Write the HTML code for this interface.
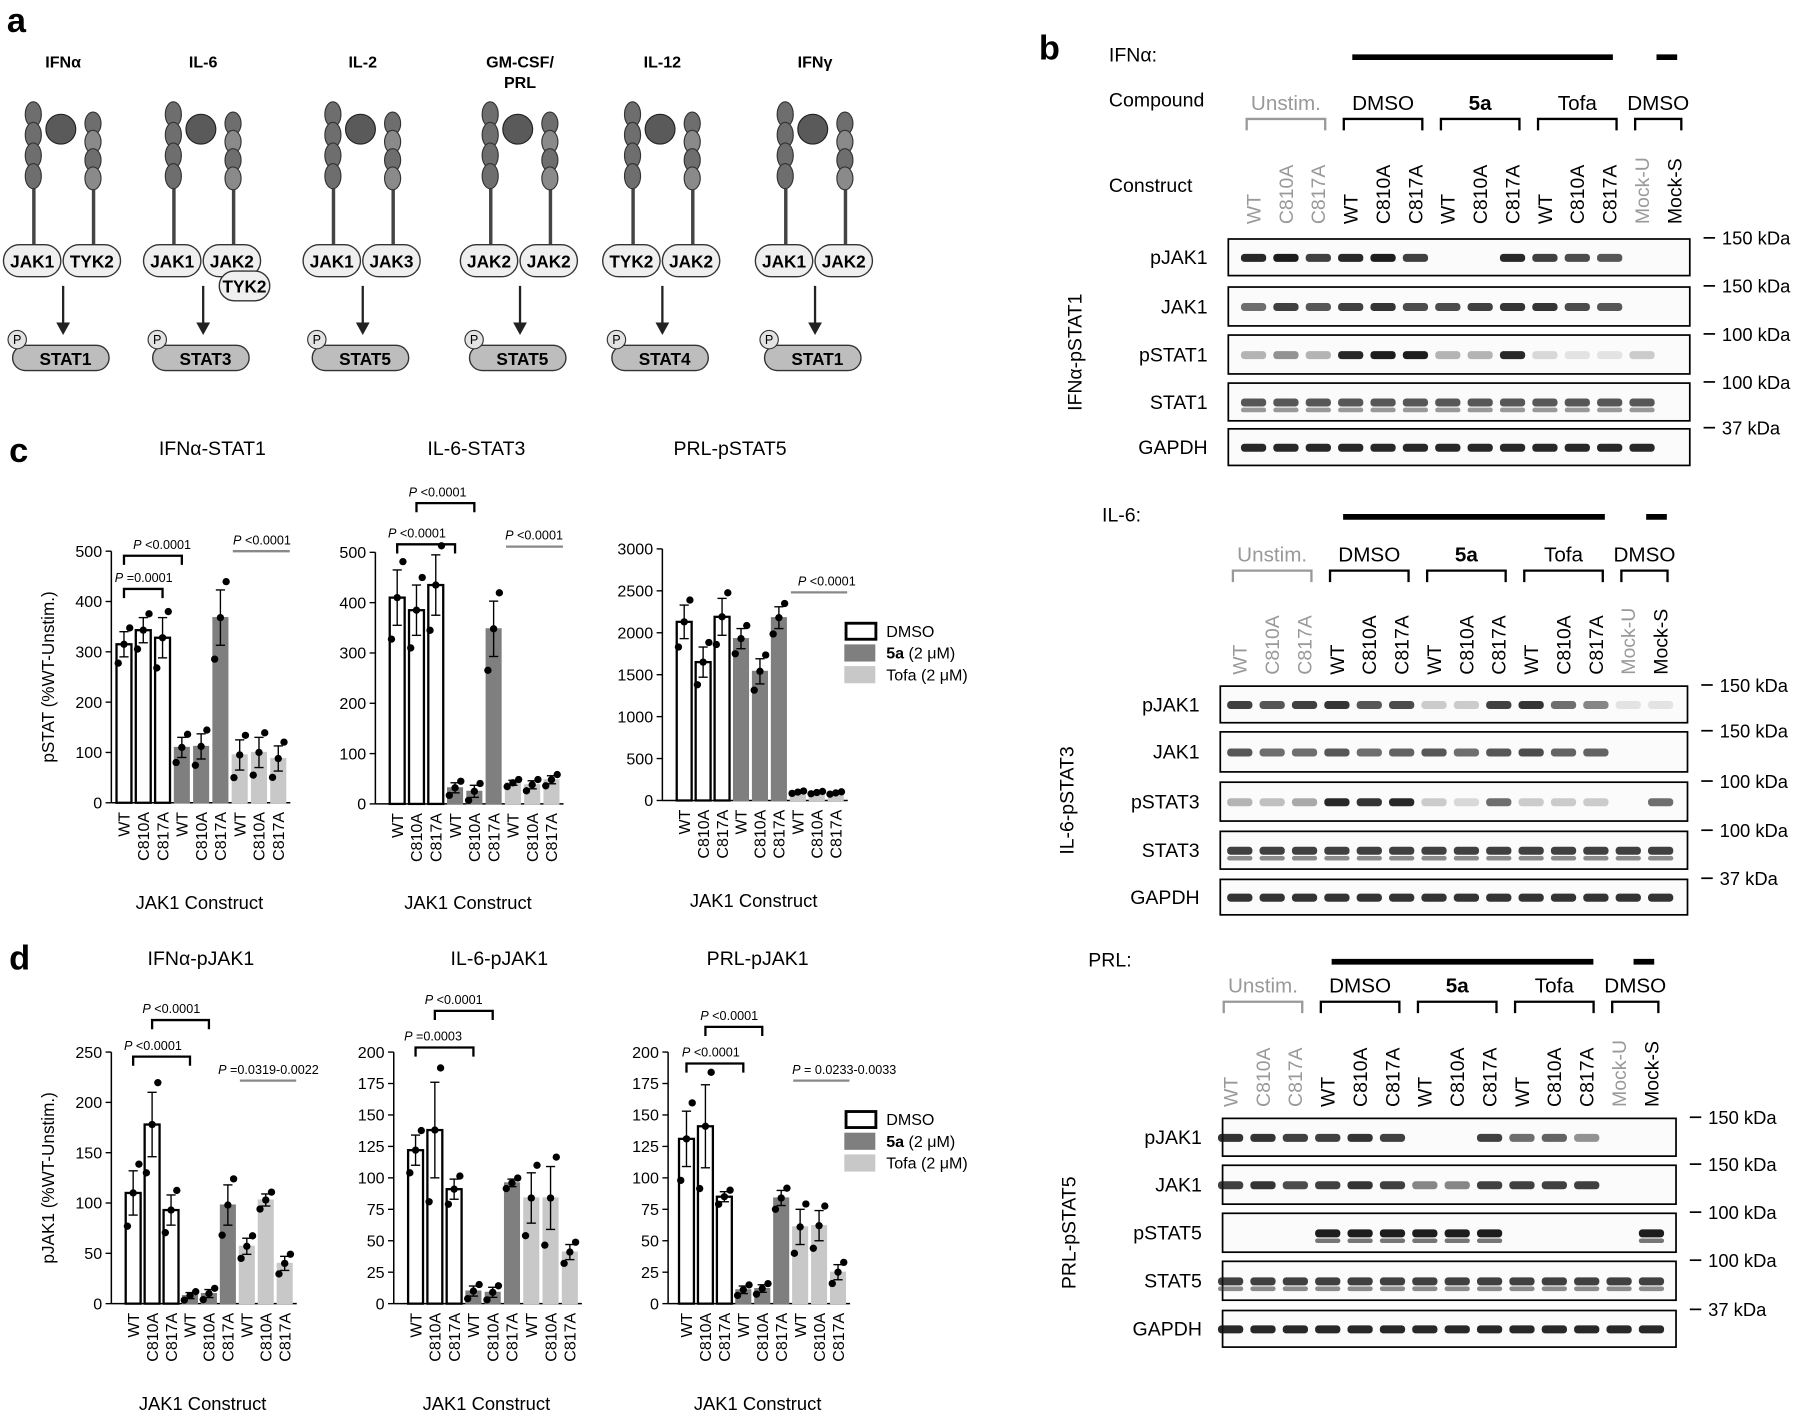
<!DOCTYPE html>
<html><head><meta charset="utf-8"><style>
html,body{margin:0;padding:0;background:#fff}
svg{display:block}
text{font-family:"Liberation Sans",Arial,sans-serif}
</style></head><body>
<svg id="fig" xmlns="http://www.w3.org/2000/svg" width="1800" height="1418" viewBox="0 0 1568 1240" preserveAspectRatio="none">
<text x="6" y="28" font-size="30" font-weight="bold">a</text>
<text x="905" y="52" font-size="30" font-weight="bold">b</text>
<text x="8" y="404" font-size="30" font-weight="bold">c</text>
<text x="8" y="848" font-size="30" font-weight="bold">d</text>
<g id="pa"></g>
<g id="pc"></g>
<g id="pb"></g>
</svg>
<script>
// ===== Panel c data =====
const cats = ["WT","C810A","C817A","WT","C810A","C817A","WT","C810A","C817A"];
const groupOf = [0,0,0,1,1,1,2,2,2];
const cIFN_vals = [315,343,328,110,112,368,95,100,88];
const cIFN_err = [25,25,40,20,25,55,30,30,25];
const cIL6_vals = [410,385,435,32,25,348,42,38,48];
const cIL6_err = [55,50,60,10,12,55,5,8,8];
const cPRL_vals = [2130,1650,2190,1930,1540,2180,100,95,90];
const cPRL_err = [200,180,220,120,150,130,10,10,10];
const cIFN_ticks = [0,100,200,300,400,500];
const cIL6_ticks = [0,100,200,300,400,500];
const cPRL_ticks = [0,500,1000,1500,2000,2500,3000];
// ===== Panel d data =====
const dIFN_vals = [110,178,93,8,10,98,57,103,40];
const dIFN_err = [22,32,15,3,4,20,8,6,7];
const dIL6_vals = [122,138,91,10,9,96,84,84,41];
const dIL6_err = [12,38,8,4,4,3,20,25,6];
const dPRL_vals = [131,141,85,11,12,84,61,62,25];
const dPRL_err = [22,33,4,3,3,6,14,12,6];
const dIFN_ticks = [0,50,100,150,200,250];
const dIL6_ticks = [0,25,50,75,100,125,150,175,200];
const dPRL_ticks = [0,25,50,75,100,125,150,175,200];

const NS="http://www.w3.org/2000/svg";
function el(tag, attrs, parent){const e=document.createElementNS(NS,tag);for(const k in attrs)e.setAttribute(k,attrs[k]);parent.appendChild(e);return e;}
function txt(s,attrs,parent){const e=el('text',attrs,parent);e.textContent=s;return e;}
const fills=["#ffffff","#7f7f7f","#c8c8c8"];

function chart(g, o){
  const {x0,yb,yt,max,vals,err,ticks,title,ylabel,step,bw,start}=o;
  const ys=v=>yb-(v/max)*(yb-yt);
  const cg=el('g',{},g);
  
  
  const t=txt(title,{x:o.tx,y:yt-80+o.tdy,'font-size':17,'text-anchor':'middle'},cg);
  
  
  el('line',{x1:x0,x2:x0,y1:yt,y2:yb,stroke:'#000','stroke-width':1.3},cg);
  ticks.forEach(v=>{
    const y=ys(v);
    el('line',{x1:x0-5,x2:x0,y1:y,y2:y,stroke:'#000','stroke-width':1.2},cg);
    const tl=txt(String(v),{x:x0-8,y:y+5,'font-size':14,'text-anchor':'end'},cg);
    
    
  });
  const xs=i=>start+i*step;
  el('line',{x1:x0,x2:xs(8)+bw/2+4,y1:yb,y2:yb,stroke:'#000','stroke-width':1.3},cg);
  vals.forEach((v,i)=>{
    const cx=xs(i), y=ys(v);
    const b=el('rect',{x:cx-bw/2,y:y,width:bw,height:yb-y,fill:fills[groupOf[i]],stroke:groupOf[i]==0?'#000':(groupOf[i]==1?'#7f7f7f':'#c8c8c8'),'stroke-width':groupOf[i]==0?2:1},cg);
    
    
    const e=err[i];
    el('line',{x1:cx,x2:cx,y1:ys(v-e),y2:ys(v+e),stroke:'#000','stroke-width':1.2},cg);
    el('line',{x1:cx-4,x2:cx+4,y1:ys(v+e),y2:ys(v+e),stroke:'#000','stroke-width':1.2},cg);
    el('line',{x1:cx-4,x2:cx+4,y1:ys(v-e),y2:ys(v-e),stroke:'#000','stroke-width':1.2},cg);
    [-1.5,0,1.3].forEach((k,j)=>{
      el('circle',{cx:cx+(j-1)*5,cy:ys(Math.max(0,v+k*e)),r:3.2,fill:'#000'},cg);
    });
    const lb=txt(cats[i],{transform:`translate(${cx+5},${yb+8}) rotate(-90)`,'font-size':14,'text-anchor':'end'},cg);
    
    
  });
  const xl=txt('JAK1 Construct',{x:(x0+xs(8))/2+4,y:yb+o.xty,'font-size':16,'text-anchor':'middle'},cg);
  
  
  if(ylabel){
    const yl=txt(ylabel,{transform:`translate(${x0-50},${(yt+yb)/2}) rotate(-90)`,'font-size':15,'text-anchor':'middle'},cg);
    
    
  }
  (o.brackets||[]).forEach(br=>{
    const [i1,i2,y,label,lx]=br;
    el('path',{d:`M${xs(i1)},${y+8} V${y} H${xs(i2)} V${y+8}`,fill:'none',stroke:'#000','stroke-width':2},cg);
    const pl=txt('',{x:lx,y:y-6,'font-size':11},cg);
    pl.innerHTML='<tspan font-style="italic">P</tspan> '+label;
    
    
  });
  if(o.grayline){
    const [y,label,lx]=o.grayline;
    el('line',{x1:xs(6)-6,x2:xs(8)+10,y1:y,y2:y,stroke:'#888','stroke-width':2},cg);
    const pl=txt('',{x:lx,y:y-6,'font-size':11},cg);
    pl.innerHTML='<tspan font-style="italic">P</tspan> '+label;
    
    
  }
}
const pc=document.getElementById('pc');
chart(pc,{name:'chart-ifna-stat1',x0:97,yb:702,yt:482,max:500,vals:cIFN_vals,err:cIFN_err,ticks:cIFN_ticks,title:'IFNα-STAT1',ylabel:'pSTAT (%WT-Unstim.)',start:108,step:16.8,bw:13,tx:185,tdy:-4,xty:93,
  brackets:[[0,3,486,'<0.0001',116],[0,2,515,'=0.0001',100]],grayline:[482,'<0.0001',203]});
chart(pc,{name:'chart-il6-stat3',x0:327,yb:703,yt:483,max:500,vals:cIL6_vals,err:cIL6_err,ticks:cIL6_ticks,title:'IL-6-STAT3',ylabel:null,start:346,step:16.8,bw:13,tx:415,tdy:-5,xty:92,
  brackets:[[1,4,440,'<0.0001',356],[0,3,476,'<0.0001',338]],grayline:[478,'<0.0001',440]});
chart(pc,{name:'chart-prl-pstat5',x0:577,yb:700,yt:480,max:3000,vals:cPRL_vals,err:cPRL_err,ticks:cPRL_ticks,title:'PRL-pSTAT5',ylabel:null,start:596,step:16.5,bw:13,tx:636,tdy:-2,xty:93,
  brackets:[],grayline:[518,'<0.0001',695]});
chart(pc,{name:'chart-ifna-pjak1',x0:97,yb:1140,yt:920,max:250,vals:dIFN_vals,err:dIFN_err,ticks:dIFN_ticks,title:'IFNα-pJAK1',ylabel:'pJAK1 (%WT-Unstim.)',start:116,step:16.5,bw:13,tx:175,tdy:4,xty:93,
  brackets:[[1,4,892,'<0.0001',124],[0,3,924,'<0.0001',108]],grayline:[945,'=0.0319-0.0022',190]});
chart(pc,{name:'chart-il6-pjak1',x0:343,yb:1140,yt:920,max:200,vals:dIL6_vals,err:dIL6_err,ticks:dIL6_ticks,title:'IL-6-pJAK1',ylabel:null,start:362,step:16.8,bw:13,tx:435,tdy:4,xty:93,
  brackets:[[1,4,884,'<0.0001',370],[0,3,916,'=0.0003',352]],grayline:null});
chart(pc,{name:'chart-prl-pjak1',x0:582,yb:1140,yt:920,max:200,vals:dPRL_vals,err:dPRL_err,ticks:dPRL_ticks,title:'PRL-pJAK1',ylabel:null,start:598,step:16.5,bw:13,tx:660,tdy:4,xty:93,
  brackets:[[1,4,898,'<0.0001',610],[0,3,930,'<0.0001',594]],grayline:[945,'= 0.0233-0.0033',690]});

// legends
function legend(y){
  const lg=el('g',{},pc);
  
  
  const labs=['DMSO','<tspan font-weight="bold">5a</tspan> (2 μM)','Tofa (2 μM)'];
  labs.forEach((l,i)=>{
    el('rect',{x:736+(i==0?1:0),y:y+i*19,width:26,height:14,fill:fills[i],stroke:i==0?'#000':fills[i],'stroke-width':i==0?2.5:1},lg);
    const t=txt('',{x:772,y:y+i*19+12,'font-size':14},lg);
    t.innerHTML=l;
    
    
  });
}
legend(545); legend(972);

// ===== Panel a =====
const pa=document.getElementById('pa');
const paths=[
  {t:['IFNα'],c:55,j:['JAK1','TYK2'],s:'STAT1'},
  {t:['IL-6'],c:177,j:['JAK1','JAK2'],s:'STAT3',extra:'TYK2'},
  {t:['IL-2'],c:316,j:['JAK1','JAK3'],s:'STAT5'},
  {t:['GM-CSF/','PRL'],c:453,j:['JAK2','JAK2'],s:'STAT5'},
  {t:['IL-12'],c:577,j:['TYK2','JAK2'],s:'STAT4'},
  {t:['IFNγ'],c:710,j:['JAK1','JAK2'],s:'STAT1'}];
paths.forEach((p,k)=>{
  const g=el('g',{},pa);
  
  
  p.t.forEach((s,i)=>{const t=txt(s,{x:p.c,y:59+i*18,'font-size':14,'font-weight':'bold','text-anchor':'middle'},g);
    });
  const c=p.c;
  el('rect',{x:c-27,y:150,width:3,height:65,fill:'#444'},g);
  el('rect',{x:c+25,y:150,width:3,height:65,fill:'#444'},g);
  for(let i=0;i<4;i++){
    el('ellipse',{cx:c-26,cy:100+i*18,rx:7,ry:11,fill:'#6e6e6e',stroke:'#333','stroke-width':1},g);
    el('ellipse',{cx:c+26,cy:108+i*16,rx:7,ry:10,fill:i%2?'#8a8a8a':'#6e6e6e',stroke:'#333','stroke-width':1},g);
  }
  el('circle',{cx:c-2,cy:113,r:13,fill:'#5a5a5a',stroke:'#222','stroke-width':1},g);
  p.j.forEach((s,i)=>{
    const x=c-52+i*52;
    el('rect',{x:x,y:214,width:50,height:28,rx:14,fill:'#efefef',stroke:'#333','stroke-width':1.2},g);
    const t=txt(s,{x:x+25,y:234,'font-size':15,'font-weight':'bold','text-anchor':'middle'},g);
    
  });
  if(p.extra){
    el('rect',{x:c+14,y:237,width:44,height:26,rx:13,fill:'#efefef',stroke:'#333','stroke-width':1.2},g);
    const t=txt(p.extra,{x:c+36,y:256,'font-size':15,'font-weight':'bold','text-anchor':'middle'},g);
    
  }
  el('line',{x1:c,x2:c,y1:250,y2:283,stroke:'#222','stroke-width':2},g);
  el('path',{d:`M${c-6},${282} L${c+6},${282} L${c},${293} Z`,fill:'#222'},g);
  el('rect',{x:c-44,y:302,width:84,height:22,rx:11,fill:'#bdbdbd',stroke:'#333','stroke-width':1.2},g);
  el('circle',{cx:c-40,cy:297,r:8,fill:'#e3e3e3',stroke:'#333','stroke-width':1},g);
  txt('P',{x:c-40,y:301,'font-size':11,'text-anchor':'middle'},g);
  const t=txt(p.s,{x:c+2,y:319,'font-size':15,'font-weight':'bold','text-anchor':'middle'},g);
  
});

// ===== Panel b blots =====
const pb=document.getElementById('pb');
const lanes=['WT','C810A','C817A','WT','C810A','C817A','WT','C810A','C817A','WT','C810A','C817A','Mock-U','Mock-S'];
const laneGray=[1,1,1,0,0,0,0,0,0,0,0,0,1,0];
const b1=[[.9,.95,.8,.9,.95,.8,0,0,.9,.8,.75,.7,0],[.6,.8,.7,.8,.85,.75,.75,.8,.85,.85,.75,.7,0],[.3,.45,.3,.9,.95,.95,.3,.3,.9,.15,.1,.1,.2],[.7,.7,.7,.7,.7,.7,.7,.7,.7,.7,.7,.7,.7],[.9,.9,.9,.9,.9,.9,.9,.9,.9,.9,.9,.9,.9]];
const b2=[[.8,.7,.8,.85,.7,.75,.2,.2,.8,.85,.6,.5,.1,.1],[.7,.6,.6,.7,.6,.65,.7,.6,.7,.75,.65,.65,0,0],[.3,.25,.35,.9,.85,.9,.2,.15,.6,.2,.2,.2,0,.6],[.8,.8,.8,.8,.8,.8,.8,.8,.8,.8,.8,.8,.8,.8],[.85,.85,.85,.85,.85,.85,.85,.85,.85,.85,.85,.85,.85,.85]];
const b3=[[0,.85,.85,.8,.8,.85,.8,0,0,.8,.6,.65,.45,0,0],[0,.8,.85,.75,.8,.85,.8,.5,.5,.8,.8,.8,.8,0,0],[0,0,0,0,.95,.95,.95,.95,.95,.95,0,0,0,0,.95],[0,.8,.8,.8,.8,.8,.8,.8,.8,.8,.8,.8,.8,.8,.8],[0,.9,.9,.9,.9,.9,.9,.9,.9,.9,.9,.9,.9,.9,.9]];
const rowNames1=['pJAK1','JAK1','pSTAT1','STAT1','GAPDH'];
const rowNames2=['pJAK1','JAK1','pSTAT3','STAT3','GAPDH'];
const rowNames3=['pJAK1','JAK1','pSTAT5','STAT5','GAPDH'];
const kda=['150 kDa','150 kDa','100 kDa','100 kDa','37 kDa'];

function blot(o){
  const g=el('g',{},pb);
  
  
  const t0=txt(o.stim,{x:o.stimX,y:o.stimY,'font-size':17},g);
  
  el('line',{x1:o.barX1,x2:o.barX2,y1:o.stimY-4,y2:o.stimY-4,stroke:'#000','stroke-width':5},g);
  el('line',{x1:o.mockX-9,x2:o.mockX+9,y1:o.stimY-4,y2:o.stimY-4,stroke:'#000','stroke-width':5},g);
  if(o.compY){
    const t=txt('Compound',{x:966,y:o.compY,'font-size':17},g);
    
    const t2=txt('Construct',{x:966,y:o.constY,'font-size':17},g);
    
  }
  const lx=i=>o.lx0+i*o.ls;
  const grpNames=['Unstim.','DMSO','5a','Tofa','DMSO'];
  const grp=[[0,2],[3,5],[6,8],[9,11],[12,13]];
  grp.forEach((gr,k)=>{
    const a=lx(gr[0])-6,b=lx(gr[1])+6,col=k==0?'#999':'#000';
    const gy=o.grpY;
    const t=txt(grpNames[k],{x:(a+b)/2,y:gy,'font-size':18,'text-anchor':'middle',fill:col,'font-weight':k==2?'bold':'normal'},g);
    
    el('path',{d:`M${a},${gy+18} V${gy+8} H${b} V${gy+18}`,fill:'none',stroke:col,'stroke-width':2},g);
  });
  lanes.forEach((l,i)=>{
    const t=txt(l,{transform:`translate(${lx(i)+6},${o.laneY}) rotate(-90)`,'font-size':17,fill:laneGray[i]?'#999':'#000'},g);
    
  });
  o.rows.forEach((r,ri)=>{
    const [y,h]=r;
    el('rect',{x:o.bx,y:y,width:o.bw,height:h,fill:'#fbfbfb',stroke:'#000','stroke-width':1.5},g);
    const rn=txt(o.rowNames[ri],{x:o.bx-18,y:y+h/2+6,'font-size':17,'text-anchor':'end'},g);
    
    const inten=o.bands[ri];
    inten.forEach((v,i)=>{
      if(v<=0) return;
      const li=o.bands===b3?i-1:i; if(li<0) return;
      const b=el('rect',{x:lx(li)-11,y:y+h/2-3,width:22,height:7,rx:3,fill:'#111','fill-opacity':v},g);
      
      if(o.rowNames[ri].startsWith('STAT')||o.rowNames[ri]=='pSTAT5') el('rect',{x:lx(li)-11,y:y+h/2+5,width:22,height:4,rx:2,fill:'#333','fill-opacity':v*0.7},g);
    });
    el('line',{x1:o.bx+o.bw+12,x2:o.bx+o.bw+22,y1:y-1,y2:y-1,stroke:'#000','stroke-width':1.5},g);
    const kt=txt(kda[ri],{x:o.bx+o.bw+28,y:y+5,'font-size':16},g);
    
  });
  const sl=txt(o.side,{transform:`translate(${o.bx-128},${(o.rows[0][0]+o.rows[4][0]+o.rows[4][1])/2}) rotate(-90)`,'font-size':17,'text-anchor':'middle'},g);
  
}
blot({name:'blot-ifna',stim:'IFNα:',stimX:966,stimY:54,barX1:1178,barX2:1405,mockX:1452,compY:93,constY:168,grpY:96,laneY:196,lx0:1092,ls:28.2,bx:1070,bw:402,
  rows:[[209,32],[251,34],[293,34],[335,33],[375,32]],rowNames:rowNames1,bands:b1,side:'IFNα-pSTAT1'});
blot({name:'blot-il6',stim:'IL-6:',stimX:960,stimY:456,barX1:1170,barX2:1398,mockX:1443,grpY:491,laneY:590,lx0:1080,ls:28.2,bx:1063,bw:407,
  rows:[[600,32],[640,35],[684,34],[727,33],[769,31]],rowNames:rowNames2,bands:b2,side:'IL-6-pSTAT3'});
blot({name:'blot-prl',stim:'PRL:',stimX:948,stimY:845,barX1:1160,barX2:1388,mockX:1432,grpY:868,laneY:968,lx0:1072,ls:28.2,bx:1065,bw:395,
  rows:[[978,33],[1019,34],[1061,34],[1103,34],[1146,32]],rowNames:rowNames3,bands:b3,side:'PRL-pSTAT5'});
</script>
</body></html>
